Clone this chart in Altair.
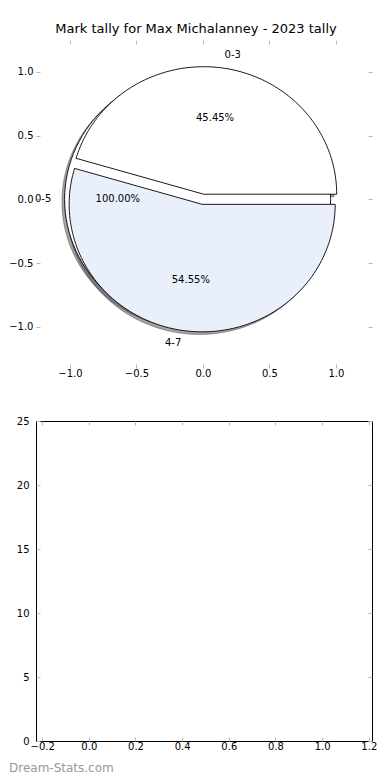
import altair as alt
import pandas as pd

# ---------------- data ----------------
TITLE = "Mark tally for Max Michalanney - 2023 tally"
WATERMARK = "Dream-Stats.com"

pie_a_labels = ["0-5"]
pie_a_counts = [11]
pie_b_labels = ["0-3", "4-7"]
pie_b_counts = [5, 6]

pie_x_ticks = [-1.0, -0.5, 0.0, 0.5, 1.0]
pie_y_ticks = [-1.0, -0.5, 0.0, 0.5, 1.0]
bar_x_ticks = [-0.2, 0.0, 0.2, 0.4, 0.6, 0.8, 1.0, 1.2]
bar_y_ticks = [0, 5, 10, 15, 20, 25]

# ---------------- style ----------------
FONT = "DejaVu Sans"
face_domain = ["0-5", "0-3", "4-7"]
face_range = ["#ffffff", "#ffffff", "#e9f0fc"]
SHADOW_COLOR = "#4b4b4b"
TICK_COLOR = "#b8b8b8"
EXPLODE = 0.04
SHADOW_DX, SHADOW_DY = -0.02, -0.02
N = 120

W = 336
H_TOP = 328
H_BOT = 320

rows = []
for pie, labels, counts in (("a", pie_a_labels, pie_a_counts), ("b", pie_b_labels, pie_b_counts)):
    for k, (lab, c) in enumerate(zip(labels, counts)):
        rows.append({"pie": pie, "k": k, "label": lab, "count": c})
df = pd.DataFrame(rows)

xs = alt.Scale(domain=[-1.255, 1.271], nice=False, zero=False)
ys = alt.Scale(domain=[-1.323, 1.249], nice=False, zero=False)


def axis(orient, values, fmt, labels=True, pad=None):
    if pad is None:
        pad = 3 if orient in ("left", "right") else 0
    kw = dict(orient=orient, values=values, grid=False, domain=False, ticks=True,
              tickSize=4, tickColor=TICK_COLOR, tickWidth=1, offset=-4,
              labelPadding=pad,
              labelFontSize=10, labelColor="black", labelFont=FONT, title=None,
              labelFlush=False, labelOverlap=False)
    if fmt:
        kw["format"] = fmt
    if not labels:
        kw["labels"] = False
    return alt.Axis(**kw)


base = (
    alt.Chart(df)
    .transform_joinaggregate(total="sum(count)", groupby=["pie"])
    .transform_window(cum="sum(count)", groupby=["pie"], sort=[alt.SortField("k")])
    .transform_calculate(a0="2*PI*(datum.cum-datum.count)/datum.total",
                         a1="2*PI*datum.cum/datum.total")
    .transform_calculate(mid="(datum.a0+datum.a1)/2",
                         full="datum.count >= datum.total")
    .transform_calculate(cx=f"{EXPLODE}*cos(datum.mid)",
                         cy=f"{EXPLODE}*sin(datum.mid)")
)

poly = (
    base.transform_calculate(i=f"sequence(0, {N + 3})")
    .transform_flatten(["i"])
    .transform_calculate(t=f"clamp((datum.i-1)/{N}, 0, 1)")
    .transform_calculate(ang="datum.a0+(datum.a1-datum.a0)*datum.t",
                         rr=f"((datum.i==0 || datum.i=={N + 2}) && !datum.full) ? 0 : 1")
    .transform_calculate(px="datum.cx+datum.rr*cos(datum.ang)",
                         py="datum.cy+datum.rr*sin(datum.ang)")
)

shadow = (
    poly.transform_calculate(sx=f"datum.px+({SHADOW_DX})", sy=f"datum.py+({SHADOW_DY})")
    .mark_line(fill=SHADOW_COLOR, fillOpacity=0.5, stroke=SHADOW_COLOR,
               strokeOpacity=0.5, strokeWidth=1)
    .encode(x=alt.X("sx:Q", scale=xs, axis=axis("bottom", pie_x_ticks, ".1f")),
            y=alt.Y("sy:Q", scale=ys, axis=axis("left", pie_y_ticks, ".1f")),
            order=alt.Order("i:Q"), detail="label:N")
)

fill_scale = alt.Scale(domain=face_domain, range=face_range)

pie_a = (
    poly.transform_filter("datum.pie == 'a'")
    .mark_line(stroke="black", strokeWidth=0.9)
    .encode(x=alt.X("px:Q", scale=xs, axis=axis("top", pie_x_ticks, ".1f", labels=False)),
            y=alt.Y("py:Q", scale=ys, axis=axis("right", pie_y_ticks, ".1f", labels=False)),
            fill=alt.Fill("label:N", scale=fill_scale, legend=None),
            order=alt.Order("i:Q"), detail="label:N")
)

pie_b = (
    poly.transform_filter("datum.pie == 'b'")
    .mark_line(stroke="black", strokeWidth=0.9)
    .encode(x=alt.X("px:Q", scale=xs, axis=None),
            y=alt.Y("py:Q", scale=ys, axis=None),
            fill=alt.Fill("label:N", scale=fill_scale, legend=None),
            order=alt.Order("i:Q"), detail="label:N")
)

lab_base = base.transform_calculate(lx="datum.cx+1.1*cos(datum.mid)",
                                    ly="datum.cy+1.1*sin(datum.mid)")
lab_right = (
    lab_base.transform_filter("datum.lx > 0")
    .mark_text(align="left", baseline="middle", fontSize=10, font=FONT, color="black")
    .encode(x=alt.X("lx:Q", scale=xs, axis=None), y=alt.Y("ly:Q", scale=ys, axis=None),
            text="label:N")
)
lab_left = (
    lab_base.transform_filter("datum.lx <= 0")
    .mark_text(align="right", baseline="middle", fontSize=10, font=FONT, color="black")
    .encode(x=alt.X("lx:Q", scale=xs, axis=None), y=alt.Y("ly:Q", scale=ys, axis=None),
            text="label:N")
)
pct = (
    base.transform_calculate(tx="datum.cx+0.6*cos(datum.mid)",
                             ty="datum.cy+0.6*sin(datum.mid)",
                             pct="format(100*datum.count/datum.total, '.2f') + '%'")
    .mark_text(align="center", baseline="middle", fontSize=10, font=FONT, color="black")
    .encode(x=alt.X("tx:Q", scale=xs, axis=None), y=alt.Y("ty:Q", scale=ys, axis=None),
            text="pct:N")
)

top = (
    alt.layer(shadow, pie_a, pie_b, lab_right, lab_left, pct)
    .resolve_axis(x="independent", y="independent")
    .properties(width=W, height=H_TOP,
                title=alt.TitleParams(TITLE, anchor="middle", dx=-8, offset=4,
                                      fontSize=13, fontWeight="normal", font=FONT,
                                      color="black"))
)

# ---------------- empty lower panel ----------------
empty = pd.DataFrame({"x": pd.Series([], dtype=float), "y": pd.Series([], dtype=float)})
bx = alt.Scale(domain=[-0.2264, 1.2137], nice=False, zero=False)
by = alt.Scale(domain=[0, 25], nice=False, zero=False)

bot_main = alt.Chart(empty).mark_point(opacity=0).encode(
    x=alt.X("x:Q", scale=bx, axis=axis("bottom", bar_x_ticks, ".1f")),
    y=alt.Y("y:Q", scale=by, axis=axis("left", bar_y_ticks, "d", pad=7)),
)
bot_aux = alt.Chart(empty).mark_point(opacity=0).encode(
    x=alt.X("x:Q", scale=bx, axis=axis("top", bar_x_ticks, ".1f", labels=False)),
    y=alt.Y("y:Q", scale=by, axis=axis("right", bar_y_ticks, "d", labels=False)),
)
bottom = (
    alt.layer(bot_main, bot_aux)
    .resolve_axis(x="independent", y="independent")
    .properties(width=W, height=H_BOT,
                view=alt.ViewBackground(stroke="black", strokeWidth=1),
                title=alt.TitleParams(WATERMARK, orient="bottom", anchor="start",
                                      frame="group", dx=-27, offset=12, fontSize=12,
                                      fontWeight="normal", font=FONT, color="#999999"))
)

chart = (
    alt.vconcat(top, bottom, spacing=37)
    .properties(padding={"left": 0, "top": 14, "right": 0, "bottom": 0})
    .configure(font=FONT)
    .configure_view(strokeWidth=0)
)

chart.save("out.html", embed_options={"renderer": "svg", "actions": False})
